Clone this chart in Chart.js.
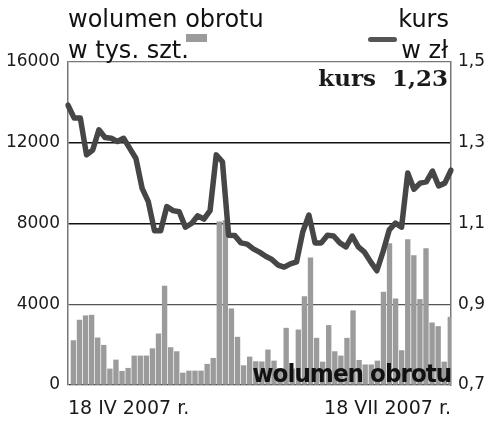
<!DOCTYPE html>
<html lang="pl">
<head>
<meta charset="UTF-8">
<title>wolumen obrotu / kurs</title>
<script src="https://cdn.jsdelivr.net/npm/chart.js@4.4.7/dist/chart.umd.min.js"></script>
<style>
  * { margin: 0; padding: 0; box-sizing: border-box; }
  body { background: #fff; font-family: 'DejaVu Sans', sans-serif; color: #111; }
  .wrap { position: relative; width: 500px; height: 430px; overflow: hidden; }
  canvas { position: absolute; left: 0; top: 0; }
  .t { position: absolute; font-size: 24px; line-height: 24px; white-space: nowrap; color: #111; }
  .sw-bar { position: absolute; left: 186px; top: 34px; width: 21px; height: 8px; background: #9b9b9b; }
  .sw-line { position: absolute; left: 368px; top: 37px; width: 29px; height: 5px; background: #555; border-radius: 3px; }
  .kurs { position: absolute; right: 52px; top: 66px; font-family: 'DejaVu Serif', serif; font-weight: 700; font-size: 23px; line-height: 23px; white-space: pre; color: #1a1a1a; }
  .wol { position: absolute; right: 49px; top: 362px; font-weight: 700; font-size: 24px; line-height: 24px; white-space: nowrap; color: #111;
         letter-spacing: -1px; transform: scaleX(0.96); transform-origin: right center; }
</style>
</head>
<body>
<div class="wrap">
  <canvas id="c" width="500" height="430"></canvas>
  <div class="t" style="left:68px; top:7px;">wolumen obrotu</div>
  <div class="t" style="left:68px; top:38px;">w tys. szt.</div>
  <div class="sw-bar"></div>
  <div class="t" style="right:51px; top:7px;">kurs</div>
  <div class="t" style="right:52px; top:38px;">w zł</div>
  <div class="sw-line"></div>
  <div class="kurs">kurs  1,23</div>
  <div class="wol">wolumen obrotu</div>
</div>
<script>
  // sesje 18.04 - 18.07.2007
  const days = [
    '18.04','19.04','20.04','23.04','24.04','25.04','26.04','27.04','30.04',
    '02.05','04.05','07.05','08.05','09.05','10.05','11.05','14.05','15.05','16.05','17.05','18.05',
    '21.05','22.05','23.05','24.05','25.05','28.05','29.05','30.05','31.05',
    '01.06','04.06','05.06','06.06','08.06','11.06','12.06','13.06','14.06','15.06',
    '18.06','19.06','20.06','21.06','22.06','25.06','26.06','27.06','28.06','29.06',
    '02.07','03.07','04.07','05.07','06.07','09.07','10.07','11.07','12.07','13.07','16.07','17.07','18.07'
  ];
  const tickLabels = ['18 IV 2007 r.', '18 VII 2007 r.'];

  // wolumen obrotu, tys. szt.
  const volume = [
    2200, 3215, 3430, 3460, 2335, 1970, 795, 1240, 680, 830,
    1440, 1440, 1440, 1800, 2535, 4900, 1855, 1655, 595, 695,
    695, 695, 1030, 1325, 8085, 8150, 3775, 2370, 960, 1390,
    1160, 1150, 1740, 1190, 800, 2815, 800, 2730, 4380, 6300,
    2320, 1140, 2950, 1655, 1440, 2320, 3680, 1225, 1000, 1000,
    1190, 4600, 7000, 4270, 1705, 7200, 6410, 4240, 6760, 3080,
    2900, 1140, 3360
  ];

  // kurs, zł
  const price = [
    1.393, 1.361, 1.361, 1.270, 1.282, 1.332, 1.313, 1.311, 1.303, 1.311,
    1.286, 1.261, 1.187, 1.154, 1.082, 1.082, 1.142, 1.132, 1.129, 1.091,
    1.100, 1.119, 1.111, 1.132, 1.270, 1.253, 1.071, 1.070, 1.052, 1.049,
    1.037, 1.029, 1.019, 1.011, 0.997, 0.992, 1.000, 1.005, 1.079, 1.121,
    1.052, 1.052, 1.071, 1.069, 1.052, 1.042, 1.069, 1.042, 1.029, 1.005,
    0.983, 1.030, 1.084, 1.101, 1.091, 1.225, 1.185, 1.200, 1.203, 1.230,
    1.193, 1.200, 1.232
  ];

  const gridColors = { 16000: '#777', 12000: '#111', 8000: '#111', 4000: '#555', 0: '#333' };
  const tickFont = { family: 'DejaVu Sans', size: 17 };

  new Chart(document.getElementById('c'), {
    data: {
      labels: days,
      datasets: [
        {
          type: 'line',
          data: price,
          xAxisID: 'x2',
          yAxisID: 'yR',
          borderColor: '#464646',
          borderWidth: 5.5,
          borderJoinStyle: 'round',
          borderCapStyle: 'round',
          pointRadius: 0,
          tension: 0,
          order: 0
        },
        {
          type: 'bar',
          data: volume,
          xAxisID: 'x',
          yAxisID: 'y',
          backgroundColor: '#9b9b9b',
          barThickness: 4.7,
          order: 1
        }
      ]
    },
    options: {
      responsive: false,
      animation: false,
      devicePixelRatio: 1,
      layout: { padding: { top: 62, left: 0, right: 0, bottom: 0 } },
      plugins: { legend: { display: false }, tooltip: { enabled: false } },
      scales: {
        x: { type: 'category', display: false, offset: true },
        x2: {
          type: 'category',
          position: 'bottom',
          offset: false,
          grid: { display: false },
          border: { display: false },
          afterFit(scale) { scale.height = 45; },
          ticks: {
            autoSkip: false,
            maxRotation: 0,
            align: 'inner',
            padding: 5,
            color: '#1a1a1a',
            font: { family: 'DejaVu Sans', size: 19 },
            callback: (v, i) => i === 0 ? tickLabels[0] : (i === days.length - 1 ? tickLabels[1] : '')
          }
        },
        y: {
          position: 'left',
          min: 0, max: 16000,
          afterFit(scale) { scale.width = 68; },
          ticks: { stepSize: 4000, padding: 8, color: '#1a1a1a', font: tickFont, callback: v => String(v) },
          grid: {
            drawTicks: false,
            color: ctx => gridColors[ctx.tick.value] || '#555',
            lineWidth: ctx => (ctx.tick.value === 12000 || ctx.tick.value === 8000) ? 1.4 : 1.2
          },
          border: { display: true, color: '#777', width: 1.5 }
        },
        yR: {
          position: 'right',
          min: 0.7, max: 1.5,
          afterFit(scale) { scale.width = 49; },
          ticks: {
            stepSize: 0.2, padding: 7, color: '#1a1a1a', font: tickFont,
            callback: v => v.toFixed(1).replace('.', ',')
          },
          grid: { display: false, drawTicks: false },
          border: { display: true, color: '#777', width: 1.5 }
        }
      }
    }
  });
</script>
</body>
</html>
